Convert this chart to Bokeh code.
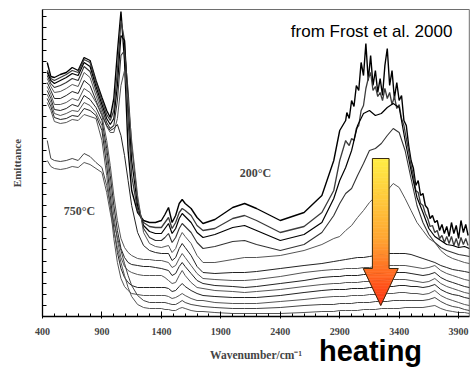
from bokeh.plotting import figure
from bokeh.models import Range1d, FixedTicker, Label
from bokeh.embed import file_html
from bokeh.resources import INLINE

# ---- data (emittance, arbitrary units) ----
wavenumber = [440, 470, 500, 550, 600, 650, 700, 750, 800, 850, 900, 940, 970, 1000, 1030, 1060, 1090, 1120,
              1150, 1200, 1250, 1300, 1350, 1400, 1430, 1460, 1490, 1520, 1550, 1575, 1600, 1650, 1700, 1750,
              1850, 2000, 2100, 2200, 2400, 2600, 2750, 2850, 2900, 2950, 3000, 3050, 3100, 3150, 3200, 3250,
              3300, 3350, 3400, 3450, 3500, 3550, 3600, 3650, 3700, 3750, 3800, 3850, 3900, 3950, 3990]

# finer sampling of the noisy O-H band for the two lowest-temperature spectra
wavenumber_band = [2960, 2980, 3000, 3020, 3040, 3060, 3080, 3100, 3120, 3140, 3160, 3180, 3200, 3220, 3240,
                   3260, 3280, 3300, 3320, 3340, 3360, 3380, 3400, 3420, 3440, 3460, 3480, 3500, 3520, 3540,
                   3560, 3580, 3600, 3620, 3640, 3660, 3680, 3700, 3720, 3740, 3760, 3780, 3800, 3820, 3840,
                   3860, 3880, 3900, 3920, 3940, 3960, 3980]

spectrum_200C = [254, 240, 239, 242, 244, 249, 246, 259, 256, 236, 219, 206, 199, 218, 264, 305, 256, 166, 126, 104,
                 96, 94, 94, 96, 102, 109, 94, 101, 113, 117, 113, 108, 99, 93, 97, 109, 113, 108, 96, 104,
                 121, 156, 186, 196]
spectrum_200C_band = [204, 198, 216, 210, 231, 226, 254, 241, 273, 236, 261, 231, 246, 224, 238, 221, 251, 268,
                      231, 246, 218, 234, 216, 221, 196, 191, 171, 156, 148, 131, 136, 121, 123, 111, 108, 98,
                      101, 94, 96, 86, 92, 83, 90, 80, 94, 83, 91, 78, 96, 84, 92, 81]
spectrum_02 = [246, 238, 236, 239, 242, 246, 244, 257, 254, 234, 216, 202, 196, 206, 246, 296, 276, 196, 141, 106,
               94, 90, 89, 89, 94, 99, 88, 94, 104, 108, 106, 101, 91, 86, 88, 98, 101, 96, 84, 90,
               104, 126, 156, 176]
spectrum_02_band = [174, 171, 178, 176, 188, 191, 206, 211, 228, 238, 244, 226, 230, 220, 224, 216, 228, 218,
                    224, 212, 220, 208, 212, 198, 191, 178, 166, 151, 141, 126, 124, 113, 111, 103, 98, 90,
                    91, 84, 86, 78, 81, 74, 80, 73, 80, 71, 78, 70, 79, 72, 78, 71]
spectrum_03 = [244, 236, 233, 236, 239, 243, 241, 254, 250, 230, 212, 198, 192, 198, 231, 281, 276, 216, 156, 111,
               91, 85, 83, 83, 88, 93, 83, 88, 98, 103, 100, 94, 84, 79, 82, 89, 91, 86, 76, 82,
               94, 118, 136, 149, 166, 191, 203, 206, 201, 203, 209, 213, 209, 176, 146, 119, 104, 88, 80, 76,
               72, 71, 69, 70, 68]
spectrum_04 = [241, 233, 229, 231, 234, 238, 236, 250, 245, 226, 208, 194, 188, 191, 216, 261, 266, 226, 171, 116,
               88, 79, 76, 76, 79, 83, 74, 79, 88, 93, 90, 84, 74, 68, 70, 75, 76, 72, 66, 72,
               84, 101, 113, 123, 128, 141, 153, 166, 168, 173, 181, 188, 184, 166, 138, 111, 94, 82, 74, 69,
               66, 64, 62, 61, 60]
spectrum_05 = [238, 230, 224, 225, 228, 232, 230, 244, 239, 221, 204, 190, 184, 184, 198, 231, 246, 216, 176, 121,
               84, 73, 70, 69, 70, 71, 64, 68, 78, 84, 80, 73, 61, 54, 54, 57, 59, 59, 61, 66,
               72, 78, 80, 86, 91, 99, 106, 114, 120, 124, 126, 133, 129, 118, 106, 94, 86, 78, 74, 66,
               61, 58, 56, 54, 53]
spectrum_06 = [234, 226, 218, 218, 221, 225, 223, 236, 231, 216, 201, 191, 186, 188, 192, 181, 161, 136, 111, 84,
               71, 66, 64, 63, 63, 63, 56, 59, 68, 73, 69, 61, 50, 44, 43, 44, 44, 45, 48, 51,
               53, 55, 56, 57, 58, 59, 59, 60, 61, 62, 63, 63, 63, 63, 62, 60, 58, 56, 54, 51,
               49, 47, 46, 45, 44]
spectrum_07 = [230, 222, 212, 212, 214, 218, 216, 228, 224, 214, 201, 176, 151, 121, 96, 78, 69, 64, 61, 58,
               57, 57, 56, 56, 55, 54, 49, 51, 58, 63, 59, 51, 43, 38, 37, 36, 36, 37, 40, 44,
               46, 47, 47, 48, 48, 48, 49, 49, 50, 50, 51, 51, 51, 51, 50, 49, 48, 49, 51, 46,
               43, 41, 39, 37, 36]
spectrum_08 = [226, 218, 207, 206, 208, 212, 210, 221, 217, 209, 196, 168, 141, 111, 86, 68, 59, 54, 52, 51,
               50, 50, 49, 48, 47, 46, 41, 43, 50, 54, 50, 43, 36, 33, 31, 30, 29, 30, 33, 36,
               39, 40, 40, 41, 41, 41, 42, 42, 43, 43, 44, 44, 44, 44, 43, 42, 41, 42, 44, 39,
               36, 34, 32, 30, 29]
spectrum_09 = [222, 214, 203, 201, 203, 206, 205, 214, 211, 204, 191, 161, 131, 101, 76, 59, 50, 46, 44, 42,
               41, 41, 41, 41, 39, 36, 33, 34, 41, 46, 41, 34, 29, 28, 26, 25, 24, 25, 27, 30,
               32, 33, 33, 34, 34, 34, 35, 35, 36, 36, 37, 37, 37, 37, 36, 35, 34, 35, 38, 33,
               30, 28, 26, 24, 23]
spectrum_10 = [218, 210, 199, 197, 198, 201, 200, 208, 206, 201, 186, 151, 121, 88, 64, 48, 39, 34, 31, 29,
               29, 29, 29, 29, 29, 28, 25, 26, 30, 33, 30, 26, 23, 21, 20, 19, 19, 19, 21, 24,
               26, 27, 27, 27, 28, 28, 28, 29, 29, 30, 30, 30, 31, 31, 30, 30, 29, 30, 32, 27,
               24, 22, 21, 19, 18]
spectrum_11 = [214, 206, 195, 193, 194, 197, 196, 202, 200, 198, 176, 141, 111, 78, 54, 38, 30, 26, 23, 22,
               21, 21, 21, 21, 21, 20, 18, 19, 21, 23, 21, 18, 16, 16, 14, 13, 13, 13, 15, 17,
               19, 20, 20, 20, 21, 21, 21, 22, 22, 22, 23, 23, 24, 24, 23, 23, 22, 23, 26, 21,
               18, 16, 14, 12, 11]
spectrum_12 = [176, 158, 156, 155, 156, 158, 156, 163, 160, 154, 149, 131, 111, 94, 79, 66, 53, 41, 31, 21,
               16, 14, 14, 14, 14, 13, 12, 12, 14, 16, 14, 12, 11, 10, 9, 8, 8, 8, 9, 11,
               12, 12, 13, 13, 13, 14, 14, 14, 15, 15, 15, 16, 16, 16, 16, 16, 16, 17, 19, 15,
               12, 10, 9, 7, 6]
spectrum_750C = [156, 150, 148, 147, 148, 150, 149, 154, 152, 148, 144, 124, 104, 86, 69, 54, 41, 29, 20, 12,
                 9, 8, 8, 8, 7, 7, 6, 6, 8, 9, 8, 6, 5, 5, 4, 3, 3, 3, 3, 4,
                 5, 5, 6, 6, 6, 6, 7, 7, 7, 8, 8, 8, 8, 9, 9, 9, 9, 10, 11, 8,
                 6, 5, 4, 4, 3]

x_major_ticks = [400, 900, 1400, 1900, 2400, 2900, 3400, 3900]
x_minor_ticks = list(range(400, 4000, 100))
y_minor_ticks = [round(i * 11.1, 1) for i in range(28)]

WN_MIN, WN_MAX = 400, 3990      # extent of the spectral axis
EM_MIN, EM_MAX = 0, 307         # extent of the emittance axis

# ---- figure: the frame spans the whole canvas, axes are pinned at the data origin ----
p = figure(width=470, height=367, output_backend="svg", toolbar_location=None,
           x_range=Range1d(46.8, 4000), y_range=Range1d(-51, 316),
           min_border=0, min_border_left=0, min_border_right=0, min_border_top=0, min_border_bottom=0)
p.grid.visible = False
p.outline_line_color = None
p.background_fill_color = "white"
p.border_fill_color = "white"

serif = "Liberation Serif"
sans = "Liberation Sans"

# plot box (top and right sides, grey)
p.line([WN_MIN, WN_MAX, WN_MAX], [EM_MAX, EM_MAX, EM_MIN], line_color="#6e6e6e", line_width=1)

xa = p.xaxis[0]
xa.fixed_location = EM_MIN
xa.bounds = (WN_MIN, WN_MAX)
xa.ticker = FixedTicker(ticks=x_major_ticks, minor_ticks=x_minor_ticks)
xa.major_tick_in = 5
xa.major_tick_out = 2
xa.minor_tick_in = 3
xa.minor_tick_out = 0
xa.axis_line_width = 1.5
xa.major_label_text_font = serif
xa.major_label_text_font_style = "bold"
xa.major_label_text_font_size = "10px"
xa.major_label_standoff = 9
xa.axis_label = "Wavenumber/cm⁻¹"
xa.axis_label_text_font = serif
xa.axis_label_text_font_style = "bold"
xa.axis_label_text_font_size = "11.5px"
xa.axis_label_standoff = 11

ya = p.yaxis[0]
ya.fixed_location = WN_MIN
ya.bounds = (EM_MIN, EM_MAX)
ya.ticker = FixedTicker(ticks=[], minor_ticks=y_minor_ticks)
ya.major_tick_in = 0
ya.major_tick_out = 0
ya.minor_tick_in = 4
ya.minor_tick_out = 0
ya.axis_line_width = 1.3
ya.major_label_standoff = 0
ya.axis_label = "Emittance"
ya.axis_label_text_font = serif
ya.axis_label_text_font_style = "bold"
ya.axis_label_text_font_size = "11px"
ya.axis_label_standoff = 20

colors = ["#000000", "#3c3c3c", "#000000", "#333333", "#555555", "#222222", "#555555",
          "#222222", "#555555", "#222222", "#555555", "#444444", "#555555"]
widths = [1.4, 1.3, 1.2, 1.1, 1, 1, 1, 1, 1, 1, 1, 1, 1]

p.line(wavenumber[:len(spectrum_200C)] + wavenumber_band, spectrum_200C + spectrum_200C_band,
       line_color=colors[0], line_width=widths[0])
p.line(wavenumber[:len(spectrum_02)] + wavenumber_band, spectrum_02 + spectrum_02_band,
       line_color=colors[1], line_width=widths[1])
full_spectra = [spectrum_03, spectrum_04, spectrum_05, spectrum_06, spectrum_07, spectrum_08,
                spectrum_09, spectrum_10, spectrum_11, spectrum_12, spectrum_750C]
for s, c, w in zip(full_spectra, colors[2:], widths[2:]):
    p.line(wavenumber, s, line_color=c, line_width=w)

# ---- gradient arrow ----
ARROW_X = 3245
SHAFT_HALF = 70
HEAD_HALF = 147
SHAFT_TOP = 158
HEAD_BASE = 48
ARROW_TIP = 11
stops = [(0.0, (255, 238, 70)), (0.55, (255, 165, 50)), (1.0, (255, 50, 18))]


def grad(t):
    for (t0, c0), (t1, c1) in zip(stops[:-1], stops[1:]):
        if t <= t1:
            f = (t - t0) / (t1 - t0)
            r, g, b = [int(round(a + (bb - a) * f)) for a, bb in zip(c0, c1)]
            return "#%02x%02x%02x" % (r, g, b)
    r, g, b = stops[-1][1]
    return "#%02x%02x%02x" % (r, g, b)


span = SHAFT_TOP - ARROW_TIP
n = 40
tops, bots, cols = [], [], []
for i in range(n):
    y0 = SHAFT_TOP - (SHAFT_TOP - HEAD_BASE) * i / n
    y1 = SHAFT_TOP - (SHAFT_TOP - HEAD_BASE) * (i + 1) / n
    tops.append(y0)
    bots.append(y1)
    cols.append(grad((SHAFT_TOP - (y0 + y1) / 2) / span))
p.quad(left=ARROW_X - SHAFT_HALF, right=ARROW_X + SHAFT_HALF, top=tops, bottom=bots,
       fill_color=cols, line_color=cols, line_width=0.6)

m = 24
hx, hy, hc = [], [], []
for i in range(m):
    y0 = HEAD_BASE - (HEAD_BASE - ARROW_TIP) * i / m
    y1 = HEAD_BASE - (HEAD_BASE - ARROW_TIP) * (i + 1) / m
    w0 = HEAD_HALF * (y0 - ARROW_TIP) / (HEAD_BASE - ARROW_TIP)
    w1 = HEAD_HALF * (y1 - ARROW_TIP) / (HEAD_BASE - ARROW_TIP)
    hx.append([ARROW_X - w0, ARROW_X + w0, ARROW_X + w1, ARROW_X - w1])
    hy.append([y0, y0, y1, y1])
    hc.append(grad((SHAFT_TOP - (y0 + y1) / 2) / span))
p.patches(hx, hy, fill_color=hc, line_color=hc, line_width=0.6)

ox = [ARROW_X - SHAFT_HALF, ARROW_X + SHAFT_HALF, ARROW_X + SHAFT_HALF, ARROW_X + HEAD_HALF, ARROW_X,
      ARROW_X - HEAD_HALF, ARROW_X - SHAFT_HALF, ARROW_X - SHAFT_HALF]
oy = [SHAFT_TOP, SHAFT_TOP, HEAD_BASE, HEAD_BASE, ARROW_TIP, HEAD_BASE, HEAD_BASE, SHAFT_TOP]
p.line(ox, oy, line_color="#3a2a10", line_width=1)

# ---- texts ----
p.add_layout(Label(x=3848, y=285, text="from Frost et al. 2000", text_font=sans, text_font_size="17px",
                   text_align="right", text_baseline="middle", text_color="black"))
p.add_layout(Label(x=2191, y=144, text="200°C", text_font=serif, text_font_style="bold",
                   text_font_size="12px", text_align="center", text_baseline="middle"))
p.add_layout(Label(x=711, y=106, text="750°C", text_font=serif, text_font_style="bold",
                   text_font_size="12px", text_align="center", text_baseline="middle"))
p.add_layout(Label(x=3159, y=-34, text="heating", text_font=sans, text_font_style="bold",
                   text_font_size="29px", text_align="center", text_baseline="middle",
                   text_color="black"))

open("out.html", "w").write(file_html(p, INLINE))
